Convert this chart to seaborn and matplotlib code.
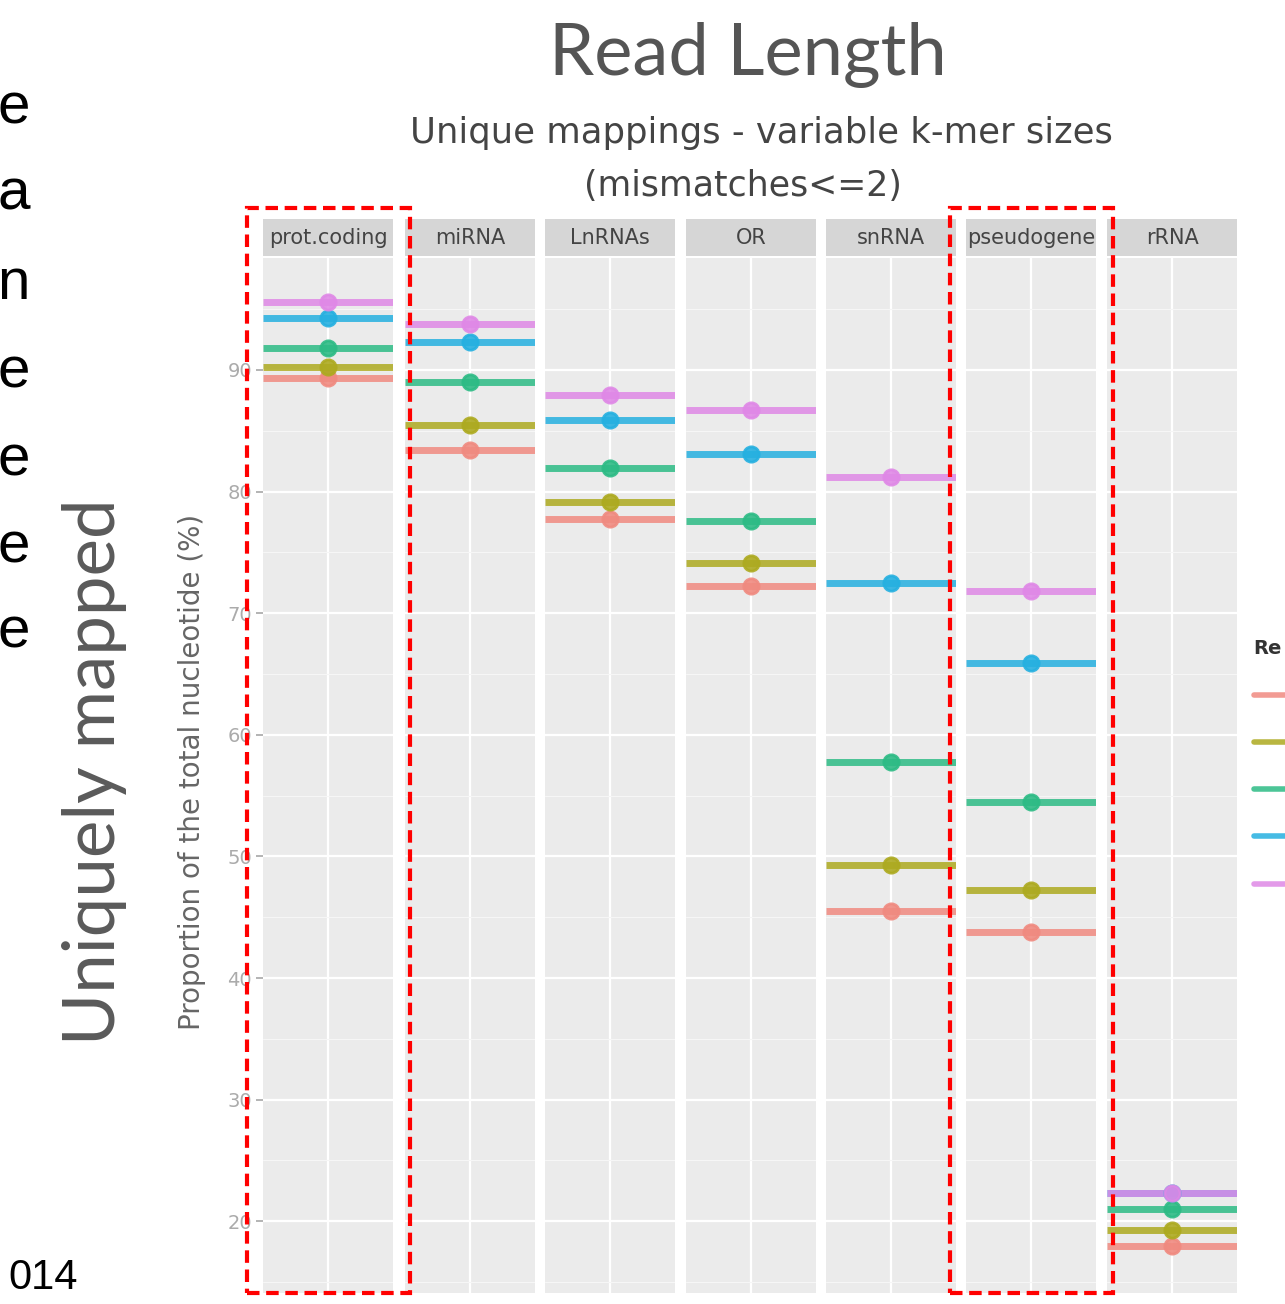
import matplotlib
matplotlib.use("Agg")
import matplotlib.pyplot as plt
from matplotlib.lines import Line2D
from matplotlib.patches import Rectangle
from matplotlib.ticker import MultipleLocator
import pandas as pd
import seaborn as sns

# data
biotypes = ["prot.coding", "miRNA", "LnRNAs", "OR", "snRNA", "pseudogene", "rRNA"]
read_lengths = ["36", "50", "75", "100", "150"]
rl_36 = [89.3, 83.4, 77.7, 72.2, 45.5, 43.8, 18.0]
rl_50 = [90.2, 85.5, 79.1, 74.1, 49.3, 47.2, 19.3]
rl_75 = [91.8, 89.0, 81.9, 77.6, 57.8, 54.5, 21.0]
rl_100 = [94.3, 92.3, 85.9, 83.1, 72.5, 65.9, 22.3]
rl_150 = [95.6, 93.8, 87.9, 86.7, 81.2, 71.8, 22.3]
y_ticks = [20, 30, 40, 50, 60, 70, 80, 90]

colors = ["#F08A80", "#ADAA20", "#2DBB85", "#25B0E0", "#DF88E6"]

rows = []
for rl, vals in zip(read_lengths, [rl_36, rl_50, rl_75, rl_100, rl_150]):
    for b, v in zip(biotypes, vals):
        rows.append({"biotype": b, "read_length": rl, "value": v})
df = pd.DataFrame(rows)

sns.set_theme(style="darkgrid", rc={"axes.facecolor": "#ebebeb", "grid.color": "white"})
plt.rcParams["font.family"] = ["DejaVu Sans"]

W, H = 1285, 1304
fig = plt.figure(figsize=(W / 100, H / 100), dpi=100)
fig.patch.set_facecolor("white")

def fx(px):
    return px / W

def fy(py):
    return 1 - py / H

panel_left = [263, 405, 545, 686, 826, 966, 1107]
panel_w = 130
top_px, bot_px = 258, 1293
strip_top = 219

for i, b in enumerate(biotypes):
    ax = fig.add_axes([fx(panel_left[i]), fy(bot_px), fx(panel_w), (bot_px - top_px) / H])
    sub = df[df["biotype"] == b]
    for j, rl in enumerate(read_lengths):
        v = sub.loc[sub["read_length"] == rl, "value"].iloc[0]
        ax.axhline(v, color=colors[j], lw=5, alpha=0.85, zorder=3 + j * 2, solid_capstyle="butt")
    sns.pointplot(data=sub, x="biotype", y="value", hue="read_length", hue_order=read_lengths,
                  palette=colors, dodge=False, linestyle="none", markersize=11,
                  ax=ax, legend=False, zorder=4)
    for j, coll in enumerate(ax.lines[len(read_lengths):]):
        coll.set_zorder(4 + j * 2)
        coll.set_alpha(0.9)
    ax.set_xlim(-0.5, 0.5)
    ax.set_ylim(14.1, 99.2)
    ax.yaxis.set_major_locator(MultipleLocator(10))
    ax.yaxis.set_minor_locator(MultipleLocator(5))
    ax.grid(True, which="major", color="white", lw=1.6)
    ax.grid(True, which="minor", axis="y", color="#f6f6f6", lw=0.8)
    ax.set_xlabel("")
    ax.set_ylabel("")
    ax.set_xticks([0])
    ax.set_xticklabels([""])
    ax.tick_params(axis="x", length=6, color="#777777")
    for s in ax.spines.values():
        s.set_visible(False)
    if i == 0:
        ax.set_yticks(y_ticks)
        ax.set_yticklabels([str(t) for t in y_ticks], color="#ababab", fontsize=14)
        ax.tick_params(axis="y", which="major", length=5, color="#aaaaaa", left=True, pad=3)
        ax.tick_params(axis="y", which="minor", length=0)
    else:
        ax.tick_params(axis="y", which="both", left=False, labelleft=False)

    # facet strip
    sax = fig.add_axes([fx(panel_left[i]), fy(top_px - 2), fx(panel_w), (top_px - 2 - strip_top) / H])
    sax.set_facecolor("#d6d6d6")
    sax.set_xticks([])
    sax.set_yticks([])
    sax.grid(False)
    for s in sax.spines.values():
        s.set_visible(False)
    sax.text(0.5, 0.5, b, ha="center", va="center", fontsize=15, color="#444444",
             transform=sax.transAxes)

# titles
fig.text(fx(748), fy(55), "Read Length", ha="center", va="center", fontsize=52,
         color="#555555", family=["Lato", "DejaVu Sans"])
fig.text(fx(761), fy(133), "Unique mappings - variable k-mer sizes", ha="center", va="center",
         fontsize=25.5, color="#444444")
fig.text(fx(743), fy(186), "(mismatches<=2)", ha="center", va="center", fontsize=25, color="#444444")

# axis labels
fig.text(fx(192), fy(772), "Proportion of the total nucleotide (%)", rotation=90,
         ha="center", va="center", fontsize=20, color="#666666")
fig.text(fx(95), fy(772), "Uniquely mapped", rotation=90, ha="center", va="center",
         fontsize=51, color="#5a5a5a", family=["Lato", "DejaVu Sans"])

# slide text remnants on the left edge
slide_letters = ["e", "a", "n", "e", "e", "e", "e"]
slide_y = [108, 195, 284, 372, 460, 547, 632]
for ch, yy in zip(slide_letters, slide_y):
    fig.text(fx(30), fy(yy), ch, ha="right", va="center", fontsize=42, color="black",
             family=["Liberation Sans", "DejaVu Sans"])
fig.text(fx(78), fy(1278), "014", ha="right", va="center", fontsize=30, color="black",
         family=["Liberation Sans", "DejaVu Sans"])

# red dashed highlight boxes
for x0 in [247, 950]:
    fig.patches.append(Rectangle((fx(x0), fy(1293)), fx(163), (1293 - 208) / H,
                                 transform=fig.transFigure, fill=False, edgecolor="red",
                                 lw=3, linestyle=(0, (3, 1.6)), zorder=10))

# legend, only its left edge is visible in the reference
handles = [Line2D([0], [0], color=c, lw=4, alpha=0.85) for c in colors]
leg = fig.legend(handles, [" "] * len(read_lengths), title="Re", loc="upper left",
                 bbox_to_anchor=(fx(1236), fy(622)), frameon=False, fontsize=14,
                 title_fontsize=14, labelspacing=1.45, handlelength=2.2, alignment="left")
leg.get_title().set_fontweight("bold")
leg.get_title().set_color("#333333")

fig.savefig("out.png", dpi=100)
